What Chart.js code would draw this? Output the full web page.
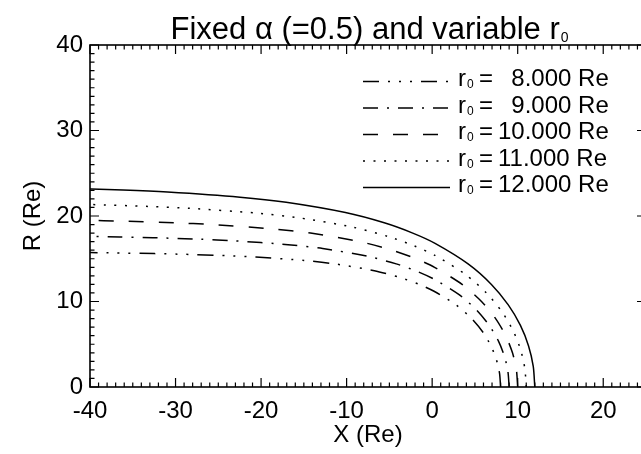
<!DOCTYPE html>
<html>
<head>
<meta charset="utf-8">
<script src="https://cdn.jsdelivr.net/npm/chart.js@4.4.1/dist/chart.umd.min.js"></script>
<style>
  html, body { margin: 0; padding: 0; background: #fff; overflow: hidden; }
  #wrap { width: 660px; height: 454px; }
</style>
</head>
<body>
<div id="wrap"><canvas id="chart" width="660" height="454"></canvas></div>
<script>
// stand-off distances of the boundary, Re
const r0Values = [8, 9, 10, 11, 12];
const r0Labels = [' 8.000', ' 9.000', '10.000', '11.000', '12.000'];

// curve points (X, R in Re)
const x8 = [8, 7.88, 7.51, 6.88, 5.94, 4.62, 2.80, 0.22, -1.51, -3.73, -6.76, -11.38, -14.97, -20.62, -24.09, -29.02, -32.45, -37.02, -43.60];
const y8 = [0, 1.6, 3.2, 4.8, 6.4, 8.0, 9.6, 11.2, 12.0, 12.8, 13.6, 14.4, 14.8, 15.2, 15.36, 15.52, 15.6, 15.68, 15.76];
const x9 = [9, 8.86, 8.45, 7.74, 6.68, 5.20, 3.15, 0.25, -1.70, -4.20, -7.60, -12.80, -16.85, -23.20, -27.10, -32.65, -36.50, -41.64];
const y9 = [0, 1.8, 3.6, 5.4, 7.2, 9.0, 10.8, 12.6, 13.5, 14.4, 15.3, 16.2, 16.65, 17.1, 17.28, 17.46, 17.55, 17.64];
const x10 = [10, 9.85, 9.39, 8.60, 7.42, 5.77, 3.50, 0.28, -1.89, -4.67, -8.45, -14.22, -18.72, -25.78, -30.11, -36.27, -40.56, -46.27];
const y10 = [0, 2, 4, 6, 8, 10, 12, 14, 15, 16, 17, 18, 18.5, 19, 19.2, 19.4, 19.5, 19.6];
const x11 = [11, 10.83, 10.33, 9.46, 8.16, 6.35, 3.85, 0.31, -2.08, -5.13, -9.29, -15.65, -20.59, -28.36, -33.13, -39.90, -44.61];
const y11 = [0, 2.2, 4.4, 6.6, 8.8, 11, 13.2, 15.4, 16.5, 17.6, 18.7, 19.8, 20.35, 20.9, 21.12, 21.34, 21.45];
const x12 = [12, 11.82, 11.27, 10.32, 8.90, 6.93, 4.20, 0.34, -2.27, -5.60, -10.14, -17.07, -22.46, -30.94, -36.14, -43.53];
const y12 = [0, 2.4, 4.8, 7.2, 9.6, 12, 14.4, 16.8, 18, 19.2, 20.4, 21.6, 22.2, 22.8, 23.04, 23.28];

const xs = [x8, x9, x10, x11, x12];
const ys = [y8, y9, y10, y11, y12];
// IDL style line patterns: dash-dot-dot-dot, dash-dot, dashed, dotted, solid
const dashes = [[16, 9, 2, 9, 2, 9, 2, 9], [15, 9, 2, 9], [15, 15], [2, 8.5], []];

const FONT = '"Liberation Sans", Arial, Helvetica, sans-serif';

const datasets = r0Values.map((r0, i) => ({
  label: 'r0 = ' + r0Labels[i] + ' Re',
  data: xs[i].map((v, j) => ({ x: v, y: ys[i][j] })),
  showLine: true,
  borderColor: '#000',
  borderWidth: 1.5,
  borderDash: dashes[i],
  pointRadius: 0,
  tension: 0.25,
  fill: false
}));

// box, inward major/minor ticks, title and legend
const idlFrame = {
  id: 'idlFrame',
  afterDraw(chart) {
    const { ctx, chartArea: a, scales: { x, y } } = chart;
    ctx.save();
    ctx.strokeStyle = '#000';
    ctx.lineWidth = 1.6;
    ctx.strokeRect(a.left, a.top, a.right - a.left, a.bottom - a.top);

    ctx.lineWidth = 1.2;
    ctx.beginPath();
    for (let v = x.min; v <= x.max; v++) {
      const px = x.getPixelForValue(v);
      const len = v % 10 === 0 ? 9 : 4.5;
      ctx.moveTo(px, a.bottom); ctx.lineTo(px, a.bottom - len);
      ctx.moveTo(px, a.top); ctx.lineTo(px, a.top + len);
    }
    for (let v = y.min; v <= y.max; v++) {
      const py = y.getPixelForValue(v);
      const len = v % 10 === 0 ? 9 : 4.5;
      ctx.moveTo(a.left, py); ctx.lineTo(a.left + len, py);
      ctx.moveTo(a.right, py); ctx.lineTo(a.right - len, py);
    }
    ctx.stroke();

    // title with subscript
    ctx.fillStyle = '#000';
    ctx.textBaseline = 'alphabetic';
    ctx.textAlign = 'left';
    const main = 'Fixed \u03b1 (=0.5) and variable r';
    ctx.font = '31px ' + FONT;
    const wMain = ctx.measureText(main).width;
    ctx.font = '14px ' + FONT;
    const wSub = ctx.measureText('0').width;
    let tx = 369 - (wMain + wSub) / 2;
    ctx.font = '31px ' + FONT;
    ctx.fillText(main, tx, 39);
    ctx.font = '14px ' + FONT;
    ctx.fillText('0', tx + wMain + 1, 42);

    // legend
    chart.data.datasets.forEach((ds, i) => {
      const ly = 81.5 + 26.5 * i;
      ctx.lineWidth = ds.borderWidth;
      ctx.setLineDash(ds.borderDash);
      ctx.beginPath();
      ctx.moveTo(363, ly);
      ctx.lineTo(450, ly);
      ctx.stroke();
      ctx.setLineDash([]);
      const by = ly + 4.5;
      ctx.font = '24px ' + FONT;
      ctx.fillText('r', 458, by);
      ctx.font = '12px ' + FONT;
      ctx.fillText('0', 467, by + 2);
      ctx.font = '24px ' + FONT;
      ctx.fillText('=', 479, by);
      const lab = r0Labels[i];
      const digit = ctx.measureText('0').width;
      const nx = lab.startsWith(' ') ? 498 + digit : 498;
      ctx.fillText(lab.trim() + ' Re', nx, by);
    });
    ctx.restore();
  }
};

const tickFont = { family: FONT, size: 24 };

new Chart(document.getElementById('chart'), {
  type: 'scatter',
  data: { datasets: datasets },
  options: {
    responsive: false,
    devicePixelRatio: 1,
    animation: false,
    layout: { padding: { top: 45, right: 14, left: 0, bottom: 0 } },
    plugins: {
      legend: { display: false },
      title: { display: false },
      tooltip: { enabled: false }
    },
    scales: {
      x: {
        type: 'linear',
        position: 'bottom',
        min: -40,
        max: 25,
        grid: { display: false, drawTicks: false },
        border: { display: false },
        ticks: {
          stepSize: 10,
          color: '#000',
          font: tickFont,
          padding: 10,
          maxRotation: 0,
          callback: v => (v % 10 === 0 ? v : '')
        },
        title: { display: true, text: 'X (Re)', color: '#000', font: tickFont, padding: { top: 0, bottom: 4 } },
        afterFit: s => { s.height = 67; }
      },
      y: {
        type: 'linear',
        position: 'left',
        min: 0,
        max: 40,
        grid: { display: false, drawTicks: false },
        border: { display: false },
        ticks: { stepSize: 10, color: '#000', font: tickFont, padding: 7 },
        title: { display: true, text: 'R (Re)', color: '#000', font: tickFont, padding: { top: 18.6, bottom: 0 } },
        afterFit: s => { s.width = 90; }
      }
    }
  },
  plugins: [idlFrame]
});
</script>
</body>
</html>
